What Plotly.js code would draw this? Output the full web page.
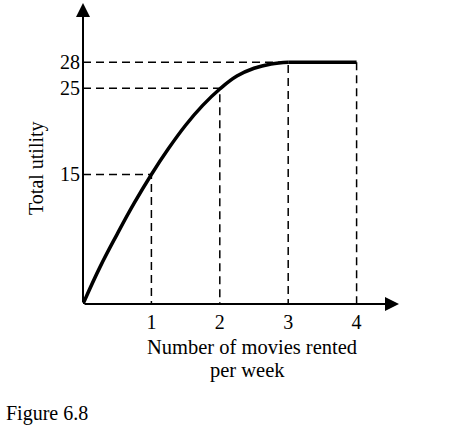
<!DOCTYPE html>
<html>
<head>
<meta charset="utf-8">
<script src="https://cdn.plot.ly/plotly-3.0.1.min.js"></script>
<style>html,body{margin:0;padding:0;background:#fff;}#chart{width:465px;height:435px;}</style>
</head>
<body>
<div id="chart"></div>
<script>
// Data
const movies = [1, 2, 3, 4];
const totalUtility = [15, 25, 28, 28];
const curveX = [0, 0.25, 0.5, 0.75, 1, 1.25, 1.5, 1.75, 2, 2.25, 2.5, 2.75, 3];
const curveY = [0, 4.3, 8.1, 11.7, 15, 18.0, 20.7, 23.0, 24.9, 26.4, 27.3, 27.8, 28];
const flatX = [3, 4];
const flatY = [28, 28];
const xTickLabels = ['1', '2', '3', '4'];
const yTickVals = [15, 25, 28];
const yTickLabels = ['15', '25', '28'];

const FONT = 'Liberation Serif, Times New Roman, serif';

// dashed guide lines built from the data
const gx = [], gy = [];
for (let i = 0; i < movies.length; i++) {
  if (i < 3) { gx.push(0, movies[i], movies[i], null); gy.push(totalUtility[i], totalUtility[i], 0, null); }
  else { gx.push(movies[i], movies[i], null); gy.push(totalUtility[i], 0, null); }
}

const traces = [
  {x: gx, y: gy, mode: 'lines', line: {color: '#000', width: 1.5, dash: '8px,5px'}, hoverinfo: 'skip', showlegend: false, cliponaxis: false},
  {x: curveX, y: curveY, mode: 'lines', line: {color: '#000', width: 3.5, shape: 'spline', smoothing: 1.2}, showlegend: false, cliponaxis: false},
  {x: flatX, y: flatY, mode: 'lines', line: {color: '#000', width: 3.5}, showlegend: false, cliponaxis: false}
];

const layout = {
  width: 465, height: 435,
  margin: {l: 83, r: 40, t: 1, b: 131, autoexpand: false},
  paper_bgcolor: '#fff', plot_bgcolor: '#fff',
  font: {family: FONT, size: 20, color: '#000'},
  showlegend: false,
  xaxis: {
    range: [0, 5], showgrid: false, zeroline: false, showline: false,
    tickvals: movies, ticktext: xTickLabels, ticks: '', ticklabelstandoff: 4,
    tickfont: {family: FONT, size: 20, color: '#000'}, fixedrange: true
  },
  yaxis: {
    range: [0, 35.09], showgrid: false, zeroline: false, showline: false,
    tickvals: yTickVals, ticktext: yTickLabels, ticks: '', ticklabelstandoff: 2,
    tickfont: {family: FONT, size: 20, color: '#000'}, fixedrange: true
  },
  annotations: [
    // axes with arrowheads
    {x: 4.62, y: 0, ax: 0, ay: 0, xref: 'x', yref: 'y', axref: 'x', ayref: 'y', text: '', showarrow: true,
     arrowhead: 2, arrowsize: 1.4, arrowwidth: 2, arrowcolor: '#000', standoff: 0},
    {x: 0, y: 34.85, ax: 0, ay: 0, xref: 'x', yref: 'y', axref: 'x', ayref: 'y', text: '', showarrow: true,
     arrowhead: 2, arrowsize: 1.4, arrowwidth: 2, arrowcolor: '#000', standoff: 0},
    {x: 252, y: 347, text: 'Number of movies rented', showarrow: false, borderpad: 0,
     xanchor: 'center', yanchor: 'middle', font: {family: FONT, size: 20.5, color: '#000'}},
    {x: 247, y: 370, text: 'per week', showarrow: false, borderpad: 0,
     xanchor: 'center', yanchor: 'middle', font: {family: FONT, size: 20.5, color: '#000'}},
    {x: 36, y: 168, text: 'Total utility', showarrow: false, textangle: -90,
     xanchor: 'center', yanchor: 'middle', font: {family: FONT, size: 20, color: '#000'}},
    {x: 4, y: 413, text: 'Figure 6.8', showarrow: false,
     xanchor: 'left', yanchor: 'middle', font: {family: FONT, size: 20, color: '#000'}}
  ]
};

// convert pixel-placed text annotations to paper coordinates
const plotW = 465 - 83 - 40, plotH = 435 - 1 - 131;
layout.annotations.forEach((a, i) => {
  if (i >= 2) {
    a.xref = 'paper'; a.yref = 'paper';
    a.x = (a.x - 83) / plotW;
    a.y = 1 - (a.y - 1) / plotH;
  }
});

Plotly.newPlot('chart', traces, layout, {staticPlot: true, displayModeBar: false});
</script>
</body>
</html>
